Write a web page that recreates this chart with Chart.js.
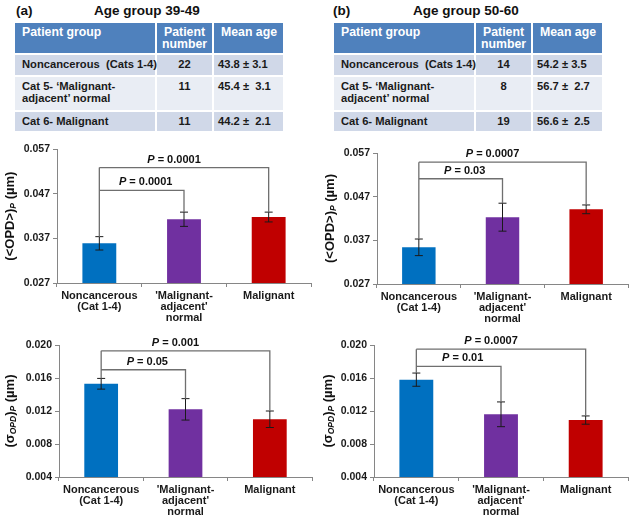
<!DOCTYPE html>
<html>
<head>
<meta charset="utf-8">
<script src="https://cdn.jsdelivr.net/npm/chart.js@4/dist/chart.umd.min.js"></script>
<style>
  body { margin: 0; background: #fff; font-family: "Liberation Sans", Arial, sans-serif; }
  #page { position: relative; width: 629px; height: 523px; overflow: hidden; }
  .lbl { position: absolute; font-weight: bold; font-size: 13.5px; color: #111; white-space: nowrap; }
  table.grp { position: absolute; border-collapse: collapse; table-layout: fixed; font-size: 11.2px; font-weight: bold; }
  table.grp td { border: 2px solid #fff; vertical-align: top; padding: 3px 3px 0 7px; line-height: 12px; color: #1a1a1a; white-space: nowrap; }
  table.grp tr.hd td { background: #4f81bd; color: #fff; height: 27px; font-size: 12.3px; }
  table.grp tr.r0 td, table.grp tr.r2 td { background: #d0d8e8; }
  table.grp tr.r1 td { background: #e9edf4; }
  table.grp td.num { text-align: center; padding-left: 2px; padding-right: 2px; }
  table.grp td.age { padding-left: 4px; }
  canvas { position: absolute; }
</style>
</head>
<body>
<div id="page">
  <div class="lbl" style="left:16px;top:3px;">(a)</div>
  <div class="lbl" style="left:94px;top:3px;">Age group 39-49</div>
  <div class="lbl" style="left:333px;top:3px;">(b)</div>
  <div class="lbl" style="left:413px;top:3px;">Age group 50-60</div>
  <table class="grp" id="tabA" style="left:13px;top:21px;width:270px;"></table>
  <table class="grp" id="tabB" style="left:332px;top:21px;width:270px;"></table>
  <canvas id="opdA" width="315" height="188" style="left:0;top:140px;"></canvas>
  <canvas id="opdB" width="314" height="188" style="left:315px;top:140px;"></canvas>
  <canvas id="sigA" width="315" height="198" style="left:0;top:325px;"></canvas>
  <canvas id="sigB" width="314" height="198" style="left:315px;top:325px;"></canvas>
</div>
<script>
// ---- table data ----
const headCols = ["Patient group", ["Patient", "number"], "Mean age"];
const groupNames = [["Noncancerous\u00a0 (Cats 1-4)"], ["Cat 5- \u2018Malignant-", "adjacent\u2019 normal"], ["Cat 6- Malignant"]];
const patientsA = [22, 11, 11];
const meanAgeA = ["43.8 \u00b1 3.1", "45.4 \u00b1\u00a0 3.1", "44.2 \u00b1\u00a0 2.1"];
const patientsB = [14, 8, 19];
const meanAgeB = ["54.2 \u00b1 3.5", "56.7 \u00b1\u00a0 2.7", "56.6 \u00b1\u00a0 2.5"];

// ---- chart data ----
const categories = [["Noncancerous", "(Cat 1-4)"], ["'Malignant-", "adjacent'", "normal"], ["Malignant"]];
const barColors = ["#0070c0", "#7030a0", "#c00000"];
const opdTicks = [0.027, 0.037, 0.047, 0.057];
const sigmaTicks = [0.004, 0.008, 0.012, 0.016, 0.020];

const opdMeanA = [0.0359, 0.0413, 0.0418];
const opdErrA = [0.0015, 0.0016, 0.0011];
const opdMeanB = [0.0354, 0.0423, 0.0441];
const opdErrB = [0.0019, 0.0032, 0.0010];
const sigmaMeanA = [0.0153, 0.0122, 0.0110];
const sigmaErrA = [0.00065, 0.0013, 0.0010];
const sigmaMeanB = [0.0158, 0.0116, 0.0109];
const sigmaErrB = [0.0008, 0.0015, 0.0005];

// brackets: compare bar 0 with bar "to", drawn at "level"
const opdBracketsA = [{ to: 1, level: 0.0478, p: "0.0001" }, { to: 2, level: 0.0529, p: "0.0001" }];
const opdBracketsB = [{ to: 1, level: 0.0511, p: "0.03" }, { to: 2, level: 0.0549, p: "0.0007" }];
const sigmaBracketsA = [{ to: 1, level: 0.0170, p: "0.05" }, { to: 2, level: 0.0193, p: "0.001" }];
const sigmaBracketsB = [{ to: 1, level: 0.0174, p: "0.01" }, { to: 2, level: 0.0195, p: "0.0007" }];

const FONT = "'Liberation Sans', Arial, sans-serif";
const AXIS = "#868686";

function buildTable(id, counts, ages) {
  const t = document.getElementById(id);
  let html = '<colgroup><col style="width:142px"><col style="width:57px"><col style="width:71px"></colgroup>';
  html += '<tr class="hd"><td>' + headCols[0] + '</td><td class="num">' + headCols[1].join("<br>") +
    '</td><td>' + headCols[2] + '</td></tr>';
  const heights = [17, 30, 16];
  groupNames.forEach((g, i) => {
    html += '<tr class="r' + i + '"><td style="height:' + heights[i] + 'px">' + g.join("<br>") + '</td><td class="num">' +
      counts[i] + '</td><td class="age">' + ages[i] + '</td></tr>';
  });
  t.innerHTML = html;
}
buildTable("tabA", patientsA, meanAgeA);
buildTable("tabB", patientsB, meanAgeB);

// draws a sequence of text pieces, rotated for the y title
function drawPieces(ctx, pieces, x, y, rotate) {
  ctx.save();
  ctx.translate(x, y);
  if (rotate) ctx.rotate(-Math.PI / 2);
  let total = 0;
  pieces.forEach(p => { ctx.font = p.f; total += ctx.measureText(p.t).width; });
  let cx = -total / 2;
  ctx.fillStyle = "#111";
  ctx.textBaseline = "middle";
  ctx.textAlign = "left";
  pieces.forEach(p => {
    ctx.font = p.f;
    ctx.fillText(p.t, cx, p.dy || 0);
    cx += ctx.measureText(p.t).width;
  });
  ctx.restore();
}

const opdTitle = [
  { t: "(<OPD>)", f: "bold 13px " + FONT },
  { t: "P", f: "italic bold 8.5px " + FONT, dy: 4 },
  { t: " (\u00b5m)", f: "bold 13px " + FONT }
];
const sigmaTitle = [
  { t: "(\u03c3", f: "bold 13px " + FONT },
  { t: "OPD", f: "italic bold 8.5px " + FONT, dy: 4 },
  { t: ")", f: "bold 13px " + FONT },
  { t: "P", f: "italic bold 8.5px " + FONT, dy: 4 },
  { t: " (\u00b5m)", f: "bold 13px " + FONT }
];

const extrasPlugin = {
  id: "extras",
  afterDatasetsDraw(chart, args, o) {
    const ctx = chart.ctx;
    const y = chart.scales.y;
    const meta = chart.getDatasetMeta(0);
    const xs = meta.data.map(b => b.x);
    const means = chart.data.datasets[0].data;
    // error bars
    ctx.save();
    ctx.strokeStyle = "#1a1a1a";
    ctx.lineWidth = 1;
    means.forEach((m, i) => {
      const top = y.getPixelForValue(m + o.err[i]);
      const bot = y.getPixelForValue(m - o.err[i]);
      ctx.beginPath();
      ctx.moveTo(xs[i], top); ctx.lineTo(xs[i], bot);
      ctx.moveTo(xs[i] - 4, top); ctx.lineTo(xs[i] + 4, top);
      ctx.moveTo(xs[i] - 4, bot); ctx.lineTo(xs[i] + 4, bot);
      ctx.stroke();
    });
    // significance brackets
    ctx.strokeStyle = "#6f6f6f";
    ctx.lineWidth = 1.3;
    const maxLevel = Math.max(...o.brackets.map(b => b.level));
    ctx.beginPath();
    ctx.moveTo(xs[0], y.getPixelForValue(means[0] + o.err[0]));
    ctx.lineTo(xs[0], y.getPixelForValue(maxLevel));
    o.brackets.forEach(b => {
      const ly = y.getPixelForValue(b.level);
      ctx.moveTo(xs[0], ly);
      ctx.lineTo(xs[b.to], ly);
      ctx.lineTo(xs[b.to], y.getPixelForValue(means[b.to] + o.err[b.to]));
    });
    ctx.stroke();
    ctx.restore();
    o.brackets.forEach(b => {
      const ly = y.getPixelForValue(b.level);
      const shift = b.to === 1 ? 4 : -10;
      drawPieces(ctx, [
        { t: "P", f: "italic bold 11px " + FONT },
        { t: " = " + b.p, f: "bold 11px " + FONT }
      ], (xs[0] + xs[b.to]) / 2 + shift, ly - 8, false);
    });
    // y title
    drawPieces(ctx, o.title, o.titleX, (chart.chartArea.top + chart.chartArea.bottom) / 2, true);
  }
};

function makeChart(id, means, err, ticks, brackets, title, box) {
  new Chart(document.getElementById(id), {
    type: "bar",
    data: {
      labels: categories,
      datasets: [{
        data: means,
        backgroundColor: barColors,
        categoryPercentage: 1,
        barPercentage: 0.4
      }]
    },
    options: {
      responsive: false,
      animation: false,
      devicePixelRatio: 1,
      layout: { padding: { top: box.top, right: box.right, left: 0, bottom: 0 } },
      plugins: {
        legend: { display: false },
        tooltip: { enabled: false },
        extras: { err, brackets, title, titleX: box.titleX }
      },
      scales: {
        x: {
          grid: { display: true, drawOnChartArea: false, offset: true, tickLength: 4, color: AXIS },
          border: { color: AXIS, width: 1 },
          ticks: { color: "#1a1a1a", padding: 3, maxRotation: 0, autoSkip: false,
                   font: { family: FONT, size: 11, weight: "bold", lineHeight: 1.0 } },
          afterFit: s => { s.height = box.xh; }
        },
        y: {
          min: ticks[0],
          max: ticks[ticks.length - 1],
          afterBuildTicks: s => { s.ticks = ticks.map(v => ({ value: v })); },
          grid: { display: true, drawOnChartArea: false, tickLength: 4, color: AXIS },
          border: { color: AXIS, width: 1 },
          ticks: { color: "#1a1a1a", padding: 3, callback: v => v.toFixed(3),
                   font: { family: FONT, size: 10.5, weight: "bold" } },
          afterFit: s => { s.width = box.left; }
        }
      }
    },
    plugins: [extrasPlugin]
  });
}

makeChart("opdA", opdMeanA, opdErrA, opdTicks, opdBracketsA, opdTitle,
  { top: 9, right: 4, left: 57, xh: 45, titleX: 10 });
makeChart("opdB", opdMeanB, opdErrB, opdTicks, opdBracketsB, opdTitle,
  { top: 13, right: 1, left: 62, xh: 44, titleX: 15 });
makeChart("sigA", sigmaMeanA, sigmaErrA, sigmaTicks, sigmaBracketsA, sigmaTitle,
  { top: 20, right: 3, left: 59, xh: 46, titleX: 10 });
makeChart("sigB", sigmaMeanB, sigmaErrB, sigmaTicks, sigmaBracketsB, sigmaTitle,
  { top: 20, right: 1, left: 59, xh: 46, titleX: 13 });
</script>
</body>
</html>
